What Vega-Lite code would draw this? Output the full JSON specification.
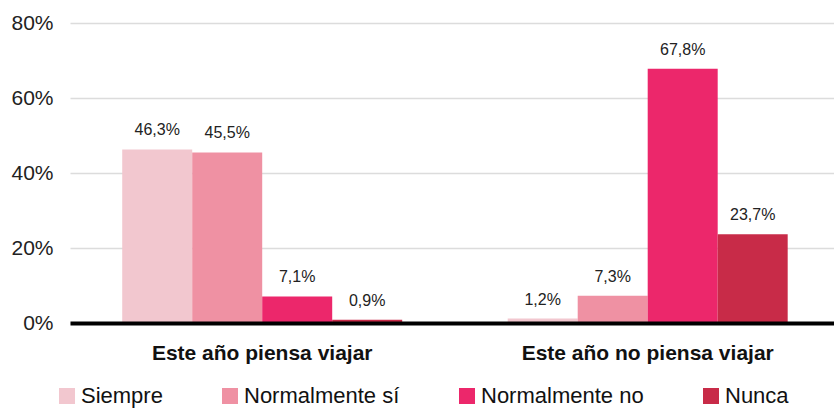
{
  "$schema": "https://vega.github.io/schema/vega-lite/v6.json",
  "width": 764,
  "height": 300,
  "autosize": {"type": "none"},
  "padding": {"left": 70, "top": 23, "right": 0, "bottom": 85},
  "background": "white",
  "config": {
    "view": {"stroke": null},
    "font": "Liberation Sans"
  },
  "data": {
    "values": [
      {"grupo": "Este año piensa viajar", "respuesta": "Siempre", "valor": 46.3, "etiqueta": "46,3%"},
      {"grupo": "Este año piensa viajar", "respuesta": "Normalmente sí", "valor": 45.5, "etiqueta": "45,5%"},
      {"grupo": "Este año piensa viajar", "respuesta": "Normalmente no", "valor": 7.1, "etiqueta": "7,1%"},
      {"grupo": "Este año piensa viajar", "respuesta": "Nunca", "valor": 0.9, "etiqueta": "0,9%"},
      {"grupo": "Este año no piensa viajar", "respuesta": "Siempre", "valor": 1.2, "etiqueta": "1,2%"},
      {"grupo": "Este año no piensa viajar", "respuesta": "Normalmente sí", "valor": 7.3, "etiqueta": "7,3%"},
      {"grupo": "Este año no piensa viajar", "respuesta": "Normalmente no", "valor": 67.8, "etiqueta": "67,8%"},
      {"grupo": "Este año no piensa viajar", "respuesta": "Nunca", "valor": 23.7, "etiqueta": "23,7%"}
    ]
  },
  "encoding": {
    "x": {
      "field": "grupo",
      "type": "nominal",
      "sort": ["Este año piensa viajar", "Este año no piensa viajar"],
      "scale": {"paddingInner": 0.2737, "paddingOuter": 0.1278, "align": 0.53},
      "axis": {
        "title": null,
        "labelAngle": 0,
        "labelFontSize": 21,
        "labelFontWeight": "bold",
        "labelColor": "#111111",
        "labelPadding": 19,
        "labelLimit": 500,
        "ticks": false,
        "domainColor": "#000000",
        "domainWidth": 4,
        "zindex": 1
      }
    },
    "xOffset": {
      "field": "respuesta",
      "type": "nominal",
      "sort": ["Siempre", "Normalmente sí", "Normalmente no", "Nunca"],
      "scale": {"paddingInner": 0, "paddingOuter": 0}
    },
    "y": {
      "field": "valor",
      "type": "quantitative",
      "scale": {"domain": [0, 80]},
      "axis": {
        "title": null,
        "values": [0, 20, 40, 60, 80],
        "labelExpr": "datum.value + '%'",
        "labelFontSize": 21,
        "labelColor": "#222222",
        "labelPadding": 17,
        "ticks": false,
        "domain": false,
        "gridColor": "#dcdcdc",
        "gridWidth": 1.5
      }
    }
  },
  "layer": [
    {
      "mark": {"type": "bar"},
      "encoding": {
        "color": {
          "field": "respuesta",
          "type": "nominal",
          "sort": ["Siempre", "Normalmente sí", "Normalmente no", "Nunca"],
          "scale": {
            "domain": ["Siempre", "Normalmente sí", "Normalmente no", "Nunca"],
            "range": ["#F2C7CF", "#EF91A3", "#EC276B", "#C82B48"]
          },
          "legend": {
            "title": null,
            "orient": "none",
            "direction": "horizontal",
            "legendX": -14,
            "legendY": 362,
            "symbolType": "square",
            "symbolSize": 256,
            "symbolStrokeWidth": 0,
            "symbolOpacity": 1,
            "labelFontSize": 22,
            "labelColor": "#111111",
            "labelOffset": 3,
            "columnPadding": 56,
            "labelLimit": 300
          }
        }
      }
    },
    {
      "mark": {"type": "text", "baseline": "alphabetic", "dy": -14, "fontSize": 16, "color": "#222222"},
      "encoding": {
        "text": {"field": "etiqueta", "type": "nominal"}
      }
    }
  ]
}
